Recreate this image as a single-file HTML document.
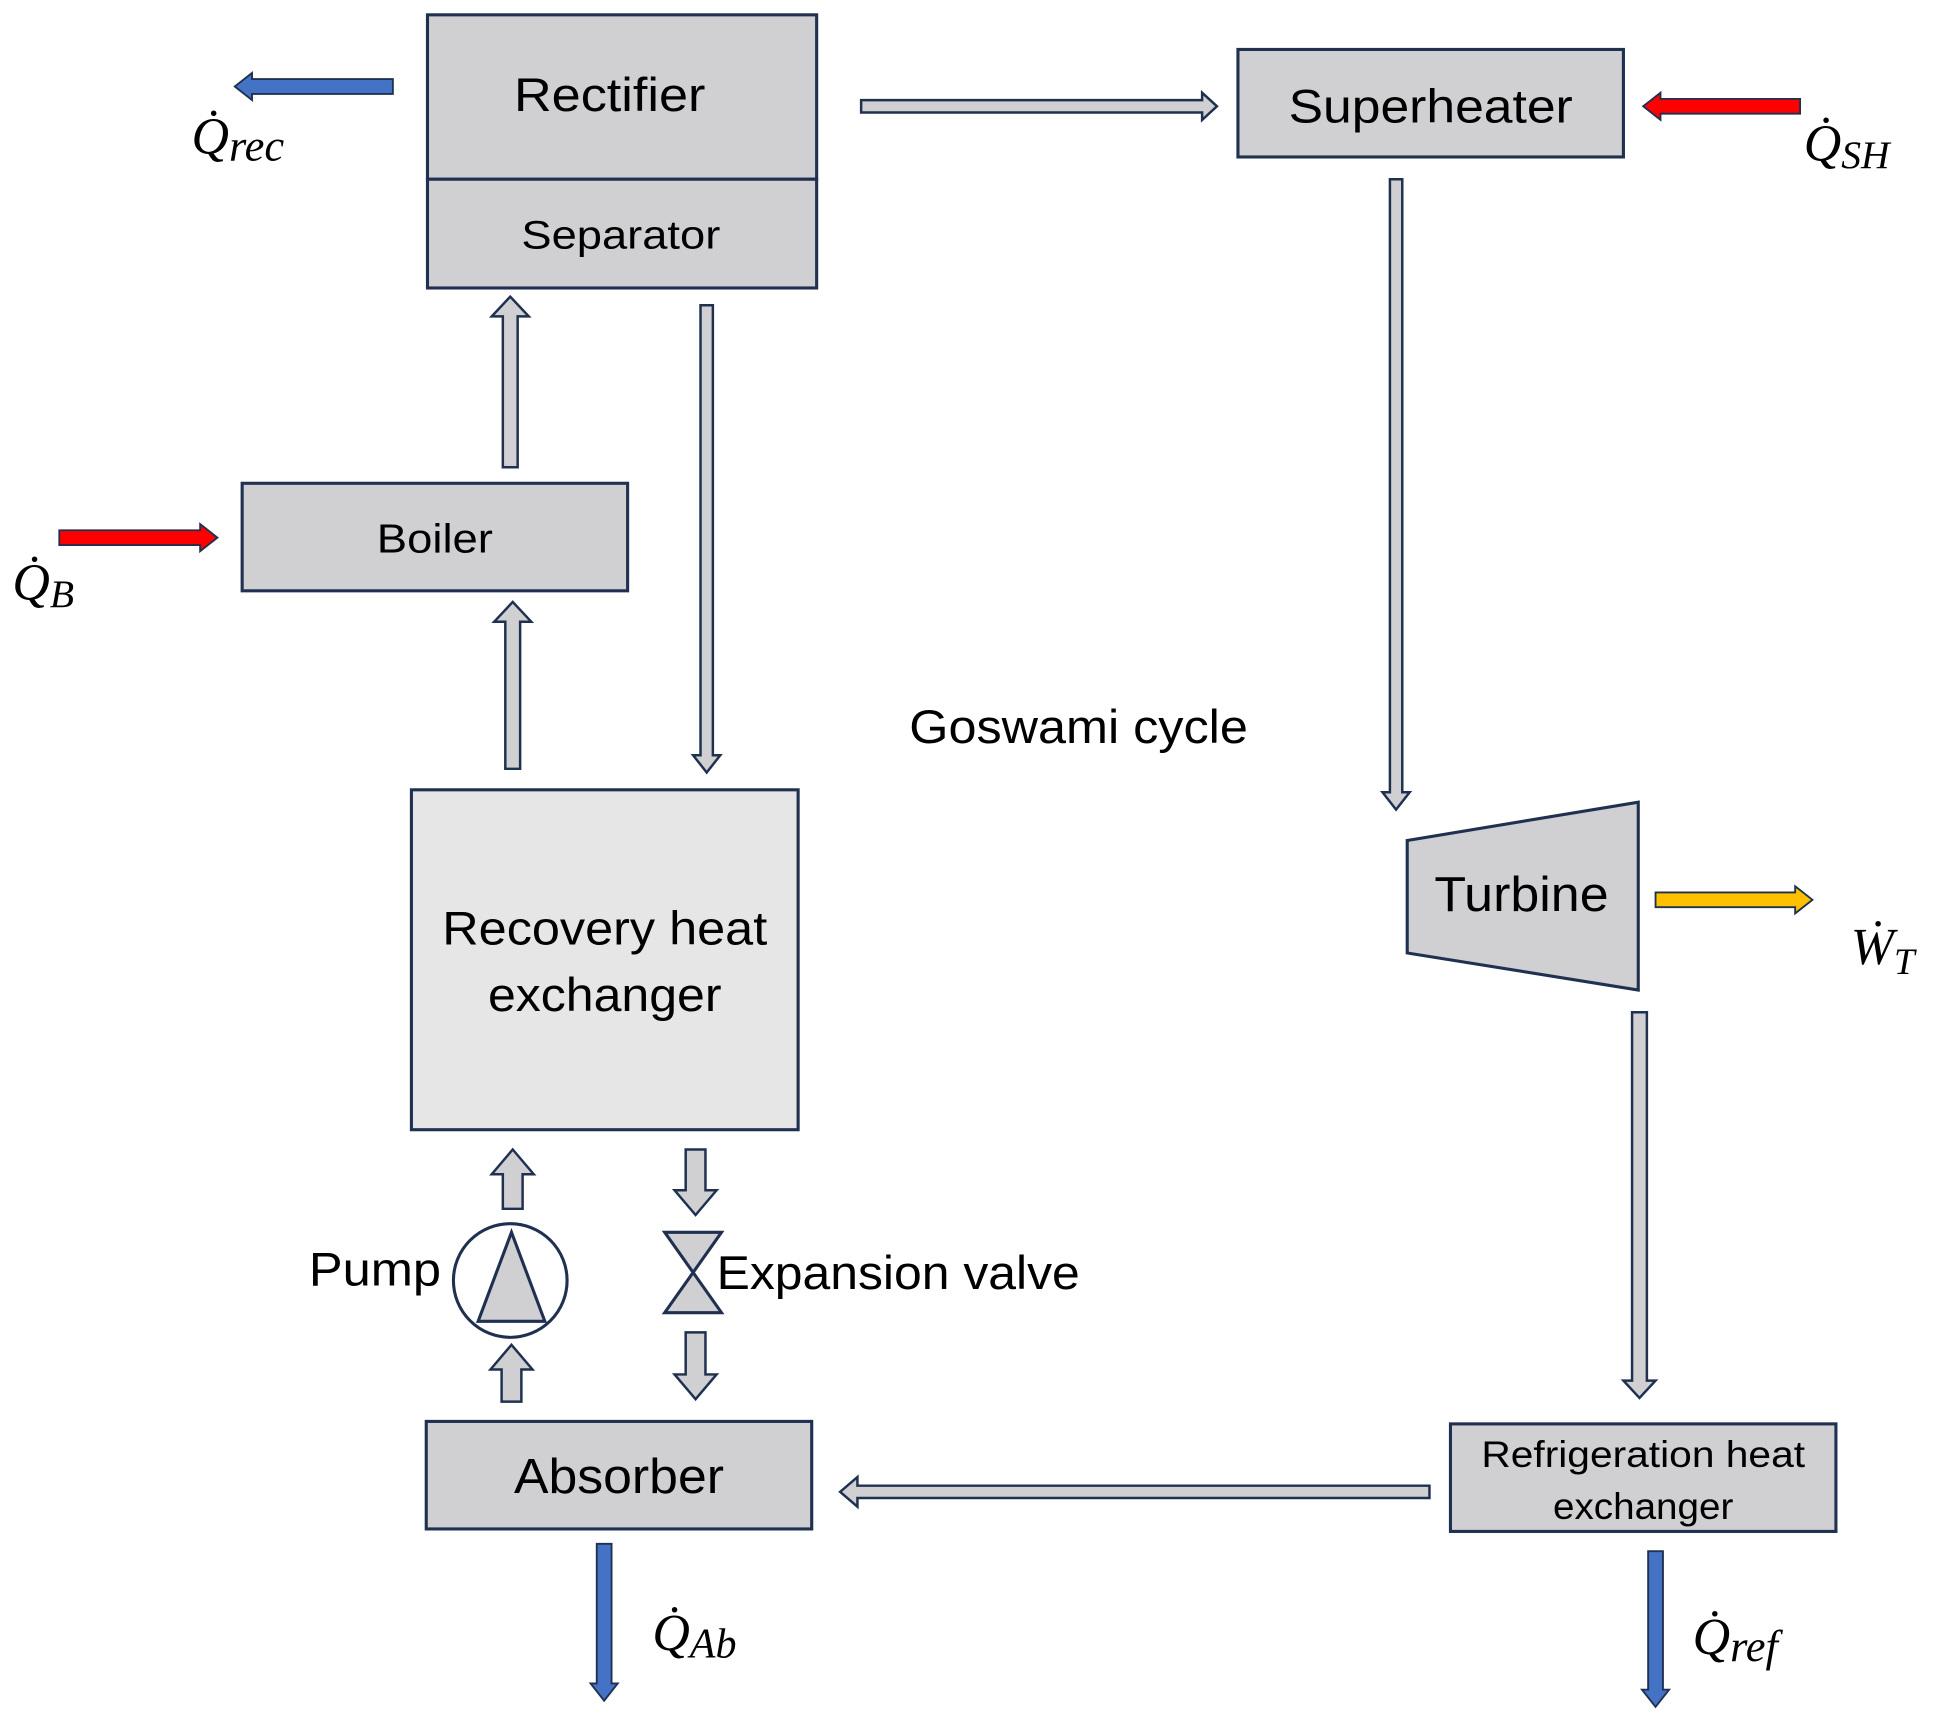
<!DOCTYPE html>
<html><head><meta charset="utf-8"><style>
html,body{margin:0;padding:0;background:#fff;}
svg{display:block;}
.t{font-family:"Liberation Sans",sans-serif;fill:#000;}
.m{font-family:"Liberation Serif",serif;font-style:italic;fill:#000;}
</style></head><body>
<svg width="1936" height="1723" viewBox="0 0 1567 1394" preserveAspectRatio="none" xmlns="http://www.w3.org/2000/svg">
<g stroke="#1f3050" stroke-width="2.5" fill="#d0cfd1">
<rect x="346" y="12" width="315" height="133"/>
<rect x="346" y="145" width="315" height="88"/>
<rect x="1002" y="40" width="312" height="87"/>
<rect x="196" y="391" width="312" height="87"/>
<rect x="333" y="639" width="313" height="275" fill="#e6e6e6"/>
<polygon points="1139,680 1326,649 1326,801 1139,771"/>
<rect x="1174" y="1152" width="312" height="87"/>
<rect x="345" y="1150" width="312" height="87"/>
<circle cx="413" cy="1036" r="46" fill="#fff"/>
<polygon points="414,997 387,1069 441,1069"/>
<polygon points="538,997 584,997 538,1062 584,1062"/>
</g>
<g stroke="#1f3050" stroke-width="2" fill="#d0cfd1">
<polygon points="1125,145 1135,145 1135,641 1141,641 1130,655 1119,641 1125,641"/>
<polygon points="567,247 577,247 577,611 583,611 572,625 561,611 567,611"/>
<polygon points="1321,819 1333,819 1333,1117 1340,1117 1327,1131 1314,1117 1321,1117"/>
<polygon points="407,378 419,378 419,256 428,256 413,240 398,256 407,256"/>
<polygon points="409,622 421,622 421,503 430,503 415,487 400,503 409,503"/>
<polygon points="697,81 697,91 973,91 973,97 985,86 973,75 973,81"/>
<polygon points="1157,1202 1157,1212 694,1212 694,1219 680,1207 694,1195 694,1202"/>
<polygon points="407,978 423,978 423,950 432,950 415,930 398,950 407,950"/>
<polygon points="555,930 571,930 571,963 580,963 563,983 546,963 555,963"/>
<polygon points="406,1134 422,1134 422,1108 431,1108 414,1088 397,1108 406,1108"/>
<polygon points="555,1078 571,1078 571,1112 580,1112 563,1132 546,1112 555,1112"/>
</g>
<g stroke="#1f3050" stroke-width="1.5">
<polygon fill="#4472c4" points="318,64 318,76 204,76 204,81 190,70 204,59 204,64"/>
<polygon fill="#ff0000" points="1457,80 1457,92 1344,92 1344,97 1330,86 1344,75 1344,80"/>
<polygon fill="#ff0000" points="48,429 48,441 162,441 162,446 176,435 162,424 162,429"/>
<polygon fill="#ffc000" points="1340,722 1340,734 1453,734 1453,739 1467,728 1453,717 1453,722"/>
<polygon fill="#4472c4" points="483,1249 495,1249 495,1362 500,1362 489,1376 478,1362 483,1362"/>
<polygon fill="#4472c4" points="1334,1255 1346,1255 1346,1367 1351,1367 1340,1381 1329,1367 1334,1367"/>
</g>
<g class="t">
<text x="416" y="90" font-size="38" textLength="155" lengthAdjust="spacingAndGlyphs">Rectifier</text>
<text x="422" y="201" font-size="32" textLength="161" lengthAdjust="spacingAndGlyphs">Separator</text>
<text x="1043" y="99" font-size="38" textLength="230" lengthAdjust="spacingAndGlyphs">Superheater</text>
<text x="305" y="447" font-size="33" textLength="94" lengthAdjust="spacingAndGlyphs">Boiler</text>
<text x="358" y="764" font-size="38" textLength="263" lengthAdjust="spacingAndGlyphs">Recovery heat</text>
<text x="395" y="818" font-size="38" textLength="189" lengthAdjust="spacingAndGlyphs">exchanger</text>
<text x="736" y="601" font-size="38" textLength="274" lengthAdjust="spacingAndGlyphs">Goswami cycle</text>
<text x="1161" y="737" font-size="40" textLength="141" lengthAdjust="spacingAndGlyphs">Turbine</text>
<text x="1199" y="1187" font-size="30" textLength="262" lengthAdjust="spacingAndGlyphs">Refrigeration heat</text>
<text x="1257" y="1229" font-size="30" textLength="146" lengthAdjust="spacingAndGlyphs">exchanger</text>
<text x="416" y="1208" font-size="40" textLength="170" lengthAdjust="spacingAndGlyphs">Absorber</text>
<text x="250" y="1040" font-size="38" textLength="107" lengthAdjust="spacingAndGlyphs">Pump</text>
<text x="580" y="1043" font-size="38" textLength="294" lengthAdjust="spacingAndGlyphs">Expansion valve</text>
</g>
<g class="m">
<text x="155" y="124" font-size="42">Q̇<tspan font-size="36" dy="6">rec</tspan></text>
<text x="1460" y="130" font-size="42">Q̇<tspan font-size="32" dy="6">SH</tspan></text>
<text x="10" y="485" font-size="42">Q̇<tspan font-size="32" dy="6">B</tspan></text>
<text x="1498" y="780" font-size="42">Ẇ<tspan font-size="30" dy="8">T</tspan></text>
<text x="528" y="1335" font-size="42">Q̇<tspan font-size="34" dy="6">Ab</tspan></text>
<text x="1370" y="1338" font-size="42">Q̇<tspan font-size="36" dy="6">ref</tspan></text>
</g>
</svg>
</body></html>
